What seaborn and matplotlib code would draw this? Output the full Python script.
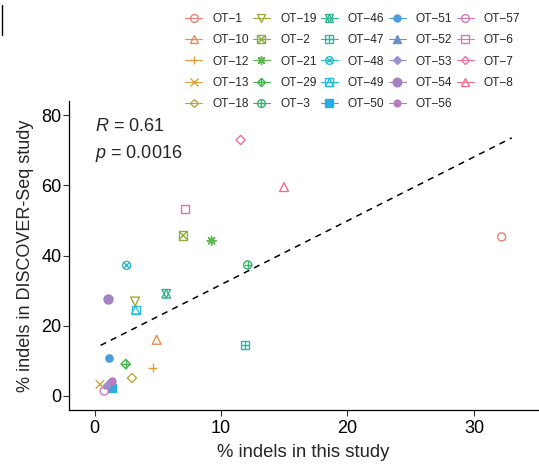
import numpy as np
import seaborn as sns
import matplotlib.pyplot as plt
from matplotlib.markers import MarkerStyle
from matplotlib.lines import Line2D
from matplotlib.legend_handler import HandlerTuple

# off-target sites
labels = ['OT-1', 'OT-10', 'OT-12', 'OT-13', 'OT-18', 'OT-19', 'OT-2', 'OT-21',
          'OT-29', 'OT-3', 'OT-46', 'OT-47', 'OT-48', 'OT-49', 'OT-50', 'OT-51',
          'OT-52', 'OT-53', 'OT-54', 'OT-56', 'OT-57', 'OT-6', 'OT-7', 'OT-8']
this_study = [32.2, 4.9, 4.6, 0.42, 2.95, 3.2, 7.0, 9.25,
              2.45, 12.1, 5.66, 11.9, 2.53, 3.24, 1.4, 1.13,
              1.08, 0.95, 1.03, 1.39, 0.76, 7.17, 11.55, 14.98]
discover_seq = [45.3, 16.0, 8.0, 3.3, 5.1, 26.9, 45.7, 44.2,
                9.1, 37.3, 29.1, 14.4, 37.2, 24.5, 2.4, 10.7,
                3.4, 3.1, 27.5, 4.3, 1.4, 53.2, 72.9, 59.5]

# correlation annotation and fitted line
r_value = '0.61'
p_value = '0.0016'
fit_intercept = 13.55
fit_slope = 1.817
fit_x = np.array([0.47, 33.0])

# muted hue palette as printed in the source figure
colors = ['#F07E72', '#EE8A4A', '#E39A3A', '#D4A03A', '#BCA53C', '#A4A83A',
          '#88AE46', '#5DB54F', '#3DB54B', '#35B56A', '#2FB38C', '#2DB5A8',
          '#32BAC4', '#27BDDA', '#23AEE5', '#4B9CDB', '#6A8FCF', '#9A92CE',
          '#A582C4', '#B77DBF', '#D079BB', '#E072AE', '#EC6FA0', '#F26E8C']

# ggplot-like shapes 1..24: (marker, filled, size scale)
shapes = [
    [('o', False, 1.0)],
    [('^', False, 1.2)],
    [('+', False, 1.3)],
    [('x', False, 1.1)],
    [('D', False, 0.65)],
    [('v', False, 1.2)],
    [('s', False, 1.0), ('x', False, 1.0)],
    [((8, 2, 0), False, 1.2)],
    [('D', False, 0.65), ('+', False, 1.3)],
    [('o', False, 1.0), ('+', False, 1.0)],
    [('^', False, 1.1), ('v', False, 1.1)],
    [('s', False, 1.0), ('+', False, 1.0)],
    [('o', False, 1.0), ('x', False, 0.5)],
    [('s', False, 1.0), ('^', False, 1.0)],
    [('s', True, 0.9)],
    [('o', True, 0.8)],
    [('^', True, 1.1)],
    [('D', True, 0.45)],
    [('o', True, 1.25)],
    [('o', True, 0.75)],
    [('o', False, 1.0)],
    [('s', False, 1.0)],
    [('D', False, 0.65)],
    [('^', False, 1.2)],
]

sns.set_style('white')
plt.rcParams['font.family'] = ['Liberation Sans', 'DejaVu Sans']
plt.rcParams['mathtext.fontset'] = 'custom'
plt.rcParams['mathtext.it'] = 'Liberation Sans:italic'
plt.rcParams['mathtext.rm'] = 'Liberation Sans'

fig = plt.figure(figsize=(5.39, 4.67), dpi=100)
ax = fig.add_axes([69 / 539, 57 / 467, 469 / 539, 309 / 467])

base_s = 34
lw = 1.0
for i, lab in enumerate(labels):
    for m, filled, scale in shapes[i]:
        ms = MarkerStyle(m, fillstyle='full' if filled else 'none')
        kw = dict(edgecolor=colors[i]) if filled else {}
        sns.scatterplot(x=[this_study[i]], y=[discover_seq[i]], marker=ms,
                        s=base_s * scale, color=colors[i], linewidth=lw,
                        ax=ax, legend=False, zorder=3, **kw)

# dashed fitted line
line = ax.plot(fit_x, fit_intercept + fit_slope * fit_x, color='black', lw=1.1, zorder=2)[0]
line.set_dashes((4, 3.5))

ax.text(0.0, 76.8, '$R$ = ' + r_value, fontsize=13, va='center', ha='left')
ax.text(0.0, 69.0, '$p$ = ' + p_value, fontsize=13, va='center', ha='left')

ax.set_xlim(-2.03, 35.07)
ax.set_ylim(-4, 84)
ax.set_xticks([0, 10, 20, 30])
ax.set_yticks([0, 20, 40, 60, 80])
ax.tick_params(axis='both', labelsize=13, length=4, width=0.8, color='#333333',
               labelcolor='black', direction='out', bottom=True, left=True)
ax.tick_params(axis='y', pad=1.5)
ax.tick_params(axis='x', pad=3)
ax.set_xlabel('% indels in this study', fontsize=13.3, labelpad=5)
ax.set_ylabel('% indels in DISCOVER-Seq study', fontsize=13, labelpad=5)
sns.despine(ax=ax)
for side in ['left', 'bottom']:
    ax.spines[side].set_color('black')
    ax.spines[side].set_linewidth(0.9)

# legend with overlaid composite markers
handles = []
for i, lab in enumerate(labels):
    parts = []
    for j, (m, filled, scale) in enumerate(shapes[i]):
        parts.append(Line2D([0], [0], color=colors[i], lw=0.8 if j == 0 else 0,
                            marker=m, markersize=5.6 * np.sqrt(scale),
                            fillstyle='full' if filled else 'none',
                            markeredgewidth=lw, markeredgecolor=colors[i]))
    handles.append(tuple(parts) if len(parts) > 1 else parts[0])

shown = [lab.replace('-', '\u2212') for lab in labels]
fig.legend(handles, shown, loc='upper left', bbox_to_anchor=(185 / 539, 1 - 13 / 467),
           ncol=5, frameon=False, fontsize=8.6, handlelength=1.43, handletextpad=0.84,
           columnspacing=0.36, labelspacing=0.78, borderpad=0, borderaxespad=0,
           handler_map={tuple: HandlerTuple(ndivide=1, pad=0)})

# small stray mark at the top-left edge of the source figure
fig.add_artist(Line2D([1.5 / 539, 1.5 / 539], [1 - 5 / 467, 1 - 35 / 467], color='black', lw=1))

fig.savefig('out.png', dpi=100)
